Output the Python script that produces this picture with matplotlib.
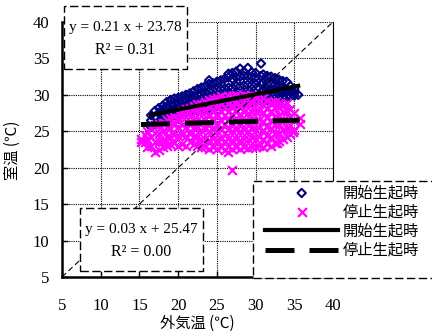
import numpy as np
import matplotlib
matplotlib.use('Agg')
import matplotlib.pyplot as plt
from matplotlib.patches import Rectangle

# 開始生起時 (outdoor temp, [indoor temps])
start_cols = [
    (16.5, [25.6, 26.5, 27.2]),
    (17.0, [26.0, 27.0, 27.8]),
    (17.5, [26.2, 27.5, 28.2]),
    (18.0, [26.5, 27.3, 28.0, 28.5]),
    (18.5, [26.8, 27.6, 28.4, 29.0]),
    (19.0, [27.0, 27.8, 28.6, 29.3]),
    (19.5, [27.2, 28.0, 28.8, 29.5]),
    (20.0, [27.0, 28.2, 29.0, 29.6]),
    (20.5, [27.4, 28.4, 29.2, 29.8]),
    (21.0, [27.5, 28.5, 29.4, 30.0]),
    (21.5, [27.6, 28.6, 29.6, 30.2]),
    (22.0, [27.8, 28.8, 29.8, 30.5]),
    (22.5, [27.8, 28.9, 30.0, 30.8]),
    (23.0, [28.0, 29.0, 30.1, 31.0]),
    (23.5, [28.0, 29.2, 30.3, 31.2]),
    (24.0, [28.2, 29.3, 30.5, 31.5, 32.0]),
    (24.5, [28.2, 29.4, 30.6, 31.6]),
    (25.0, [28.4, 29.5, 30.7, 31.8]),
    (25.5, [28.4, 29.6, 30.8, 32.0]),
    (26.0, [28.5, 29.7, 30.9, 32.2]),
    (26.5, [28.6, 29.8, 31.0, 32.4, 32.9]),
    (27.0, [28.6, 29.8, 31.0, 32.2, 33.0]),
    (27.5, [28.8, 30.0, 31.2, 32.4, 33.2]),
    (28.0, [28.8, 30.0, 31.2, 32.5, 33.6]),
    (28.5, [28.9, 30.1, 31.3, 32.6, 33.2]),
    (29.0, [29.0, 30.2, 31.4, 32.6, 33.7]),
    (29.5, [29.0, 30.2, 31.4, 32.5, 33.1]),
    (30.0, [29.1, 30.3, 31.5, 32.4, 33.0]),
    (30.7, [29.2, 30.4, 31.5, 32.6, 34.3]),
    (31.0, [29.2, 30.5, 31.6, 32.8]),
    (31.5, [29.3, 30.5, 31.5, 32.6]),
    (32.0, [29.4, 30.6, 31.5, 32.5]),
    (32.5, [29.5, 30.6, 31.4, 32.3]),
    (33.0, [29.5, 30.6, 31.2, 32.1]),
    (33.5, [29.6, 30.5, 31.0, 31.9]),
    (34.0, [29.7, 30.4, 30.8, 31.8]),
    (34.5, [29.8, 30.5, 31.2]),
    (35.0, [29.9, 30.3, 30.8]),
    (35.5, [30.0]),
]

# 停止生起時
stop_cols = [
    (15.2, [23.5, 24.0]),
    (15.7, [23.5, 24.5]),
    (16.0, [22.8, 24.0, 25.0]),
    (16.5, [23.0, 24.2, 25.3]),
    (17.0, [22.2, 23.5, 24.8, 25.8]),
    (17.5, [22.5, 23.6, 24.8, 26.0]),
    (18.0, [22.8, 23.8, 25.0, 26.2]),
    (18.5, [23.0, 24.2, 25.4, 26.5]),
    (19.0, [23.2, 24.2, 25.5, 26.8]),
    (19.5, [23.4, 24.5, 25.8, 27.0]),
    (20.0, [23.0, 24.3, 25.6, 26.8, 27.5]),
    (20.5, [23.2, 24.5, 25.8, 27.0, 27.8]),
    (21.0, [23.0, 24.3, 25.6, 26.9, 28.0]),
    (21.5, [23.5, 24.6, 25.8, 27.0, 28.2]),
    (22.0, [23.2, 24.4, 25.6, 26.8, 28.0, 28.5]),
    (22.5, [23.0, 24.2, 25.4, 26.6, 27.8, 28.7]),
    (23.0, [22.8, 24.0, 25.2, 26.4, 27.6, 28.8]),
    (23.5, [22.8, 24.0, 25.3, 26.5, 27.7, 29.0]),
    (24.0, [22.6, 23.8, 25.0, 26.2, 27.4, 28.6, 29.3]),
    (24.5, [22.8, 24.0, 25.2, 26.4, 27.6, 28.8, 29.5]),
    (25.0, [22.6, 23.8, 25.0, 26.2, 27.4, 28.6, 29.6]),
    (25.5, [22.8, 24.0, 25.2, 26.4, 27.6, 28.8, 29.8]),
    (26.0, [22.5, 23.6, 24.8, 26.0, 27.2, 28.4, 29.6]),
    (26.4, [22.2]),
    (26.5, [22.8, 24.0, 25.2, 26.4, 27.6, 28.8, 29.9]),
    (27.0, [19.7, 22.6, 23.8, 25.0, 26.2, 27.4, 28.6, 29.8]),
    (27.5, [22.8, 24.0, 25.2, 26.4, 27.6, 28.8, 30.0]),
    (28.0, [22.6, 23.8, 25.0, 26.2, 27.4, 28.6, 29.8]),
    (28.5, [22.8, 24.0, 25.2, 26.4, 27.6, 28.8, 30.0]),
    (29.0, [22.7, 23.9, 25.1, 26.3, 27.5, 28.7, 29.9]),
    (29.5, [22.9, 24.1, 25.3, 26.5, 27.7, 28.9, 30.0]),
    (30.0, [22.8, 24.0, 25.2, 26.4, 27.6, 28.8, 29.9]),
    (30.5, [23.0, 24.2, 25.4, 26.6, 27.8, 29.0, 30.0]),
    (31.0, [22.8, 24.0, 25.2, 26.4, 27.6, 28.8, 29.6]),
    (31.5, [23.2, 24.4, 25.6, 26.8, 28.0, 29.2]),
    (32.0, [23.0, 24.2, 25.4, 26.6, 27.8, 29.0]),
    (32.5, [23.4, 24.6, 25.8, 27.0, 28.2, 29.0]),
    (32.8, [23.4]),
    (33.0, [23.6, 24.8, 26.0, 27.2, 28.4, 28.9]),
    (33.5, [24.0, 25.2, 26.4, 27.6, 28.6]),
    (34.0, [24.2, 25.4, 26.6, 27.8, 28.9]),
    (34.5, [24.6, 25.8, 27.0, 28.0]),
    (34.8, [24.9]),
    (35.0, [25.2, 26.4, 27.5]),
    (35.7, [26.0, 26.8]),
]

start_x = [x for x, ys in start_cols for _ in ys]
start_y = [y for _, ys in start_cols for y in ys]
stop_x = [x for x, ys in stop_cols for _ in ys]
stop_y = [y for _, ys in stop_cols for y in ys]

start_fit = (0.21, 23.78, 0.31)
stop_fit = (0.03, 25.47, 0.00)
labels = ['開始生起時', '停止生起時', '開始生起時', '停止生起時']
ticks = [5, 10, 15, 20, 25, 30, 35, 40]

jp = ['Noto Sans CJK JP', 'DejaVu Sans']
plt.rcParams['font.family'] = ['Liberation Serif', 'DejaVu Serif']

W, H = 432, 331
fig = plt.figure(figsize=(W / 100, H / 100), dpi=100)
ax = fig.add_axes([62 / W, 1 - 277 / H, 271 / W, 255 / H])

sc1 = ax.scatter(start_x, start_y, marker='D', s=18, facecolors='none',
                 edgecolors='#000080', linewidths=1.5, zorder=2)
sc2 = ax.scatter(stop_x, stop_y, marker='x', s=40, c='#ff00ff',
                 linewidths=1.6, zorder=3)

ax.plot([5, 40], [5, 40], color='black', lw=0.8, ls=(0, (5, 3)), zorder=3.5)

xs1 = np.array([min(start_x), max(start_x)])
l1, = ax.plot(xs1, start_fit[0] * xs1 + start_fit[1], color='black', lw=3, zorder=4)
xs2 = np.array([min(stop_x), max(stop_x)])
l2, = ax.plot(xs2, stop_fit[0] * xs2 + stop_fit[1], color='black', lw=3.6,
              ls=(0, (5.8, 3)), zorder=4)

ax.set_xlim(5, 40)
ax.set_ylim(5, 40)
ax.set_xticks(ticks)
ax.set_yticks(ticks)
ax.grid(True, color='black', ls=(0, (1, 1)), lw=0.8)
ax.tick_params(direction='in', length=4, width=1, labelsize=12)
ax.tick_params(axis='x', pad=15)
ax.tick_params(axis='y', pad=9)
ax.spines['top'].set_visible(False)
ax.spines['left'].set_linewidth(1.8)
ax.spines['bottom'].set_linewidth(1.8)
ax.spines['right'].set_linewidth(0.8)

fig.text(197 / W, 1 - 323 / H, '外気温 (℃)', family=jp, fontsize=11, ha='center', va='center')
fig.text(12 / W, 1 - 150 / H, '室温 (℃)', family=jp, fontsize=11, rotation=90,
         ha='center', va='center')

# 回帰式のボックス
def eq_box(x0, y0, x1, y1, fit):
    ax.add_patch(Rectangle((x0 / W, 1 - y1 / H), (x1 - x0) / W, (y1 - y0) / H,
                           transform=fig.transFigure, facecolor='white', edgecolor='black',
                           lw=1, ls=(0, (6, 2.5)), clip_on=False, zorder=4.5))
    cx = (x0 + x1) / 2 / W
    ax.text(cx, 1 - (y0 + 21) / H, f'y = {fit[0]:.2f} x + {fit[1]:.2f}', fontsize=11,
            ha='center', va='center', transform=fig.transFigure, zorder=6)
    ax.text(cx, 1 - (y0 + 44) / H, f'R² = {fit[2]:.2f}', fontsize=11.5,
            ha='center', va='center', transform=fig.transFigure, zorder=6)

eq_box(64, 6, 187, 69, start_fit)
eq_box(80, 208, 203, 271, stop_fit)

# 凡例
ax.add_patch(Rectangle((253 / W, 1 - 278 / H), (445 - 253) / W, 97 / H,
                       transform=fig.transFigure, facecolor='white', edgecolor='black',
                       lw=1, ls=(0, (6, 2.5)), clip_on=False, zorder=4.5))
leg = ax.legend([sc1, sc2, l1, l2], labels, loc='upper left',
                bbox_to_anchor=(265 / W, 1 - 184 / H), bbox_transform=fig.transFigure,
                frameon=False, borderpad=0, borderaxespad=0, handlelength=4.8,
                handletextpad=0.3, labelspacing=0.15, prop={'family': jp, 'size': 11},
                scatterpoints=1)
leg.set_zorder(6)

fig.savefig('out.png', dpi=100)
